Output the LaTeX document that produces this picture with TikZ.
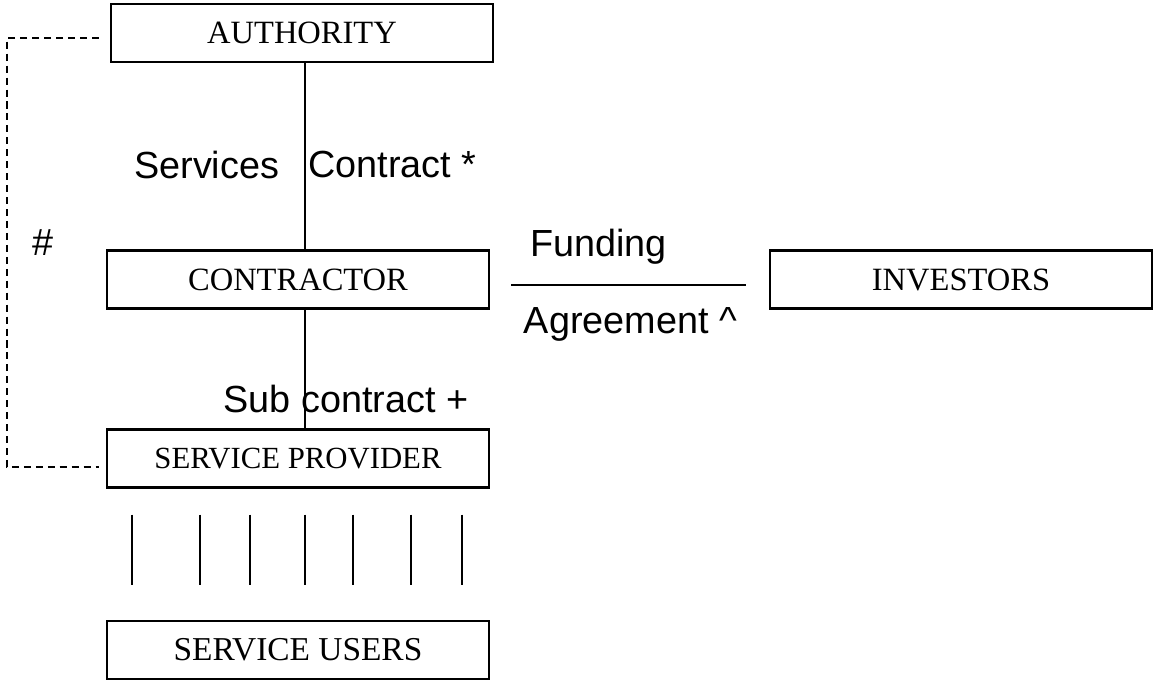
\documentclass[tikz,border=0pt]{standalone}
\usepackage{fontspec}
\setmainfont{Liberation Serif}
\newfontfamily\labelfont{Liberation Sans}
\usetikzlibrary{positioning}

\begin{document}
\begin{tikzpicture}[
                    block/.style={rectangle, draw, line width=1.3pt, minimum width=7.64cm, minimum height=1.16cm, inner sep=4pt, font=\fontsize{18.5}{22}\selectfont},
                    link/.style={line width=1pt},
                    tag/.style={inner sep=0pt, font=\labelfont\fontsize{21.5}{26}\selectfont},
                    node distance=3.6cm,
                    align=center,
                ]
                \useasboundingbox (0,0) rectangle (23.06,-13.64);

                \node[block] (authority) at (6.04,-0.66) {AUTHORITY};
                \node[block] (contractor) [node distance=4.93cm, below of=authority, xshift=-0.08cm] {CONTRACTOR};
                \node[block] (investors) [node distance=13.26cm, right of=contractor] {INVESTORS};
                \node[block, font=\fontsize{17.5}{21}\selectfont] (provider) [node distance=3.58cm, below of=contractor] {SERVICE PROVIDER};
                \node[block, font=\fontsize{19}{22}\selectfont] (users) [node distance=3.83cm, below of=provider] {SERVICE USERS};

                \coordinate (spine) at (6.1,0);
                \coordinate (dashcorner) at (0.14,-5);
                \node[tag] (hash) at (0.86,-4.86) {\#};

                \draw[link] (authority.south -| spine) -- node[tag, pos=0.545, anchor=west, xshift=0.05cm] {Contract *} node[tag, pos=0.545, anchor=east, xshift=-0.5cm] {Services} (contractor.north -| spine);
                \draw[link] (contractor.south -| spine) -- node[tag, pos=0.75, xshift=0.82cm] {Sub contract +} (provider.north -| spine);
                \draw[link] ([shift={(0.42,-0.11)}]contractor.east) -- node[tag, above=0.4cm, xshift=-0.6cm] {Funding} node[tag, below=0.44cm, xshift=0.04cm] {Agreement \textasciicircum} ([shift={(-0.46,-0.11)}]investors.west);
                \draw[link, dash pattern=on 4pt off 2.8pt] ([shift={(-0.22,-0.1)}]authority.west) -| (dashcorner) |- ([shift={(-0.14,-0.17)}]provider.west);

                \foreach \x in {2.64,4.0,5.0,6.1,7.06,8.22,9.24}
                    \draw[link, shorten <=0.52cm, shorten >=0.7cm] (\x,0 |- provider.south) -- (\x,0 |- users.north);
            \end{tikzpicture}
\end{document}
